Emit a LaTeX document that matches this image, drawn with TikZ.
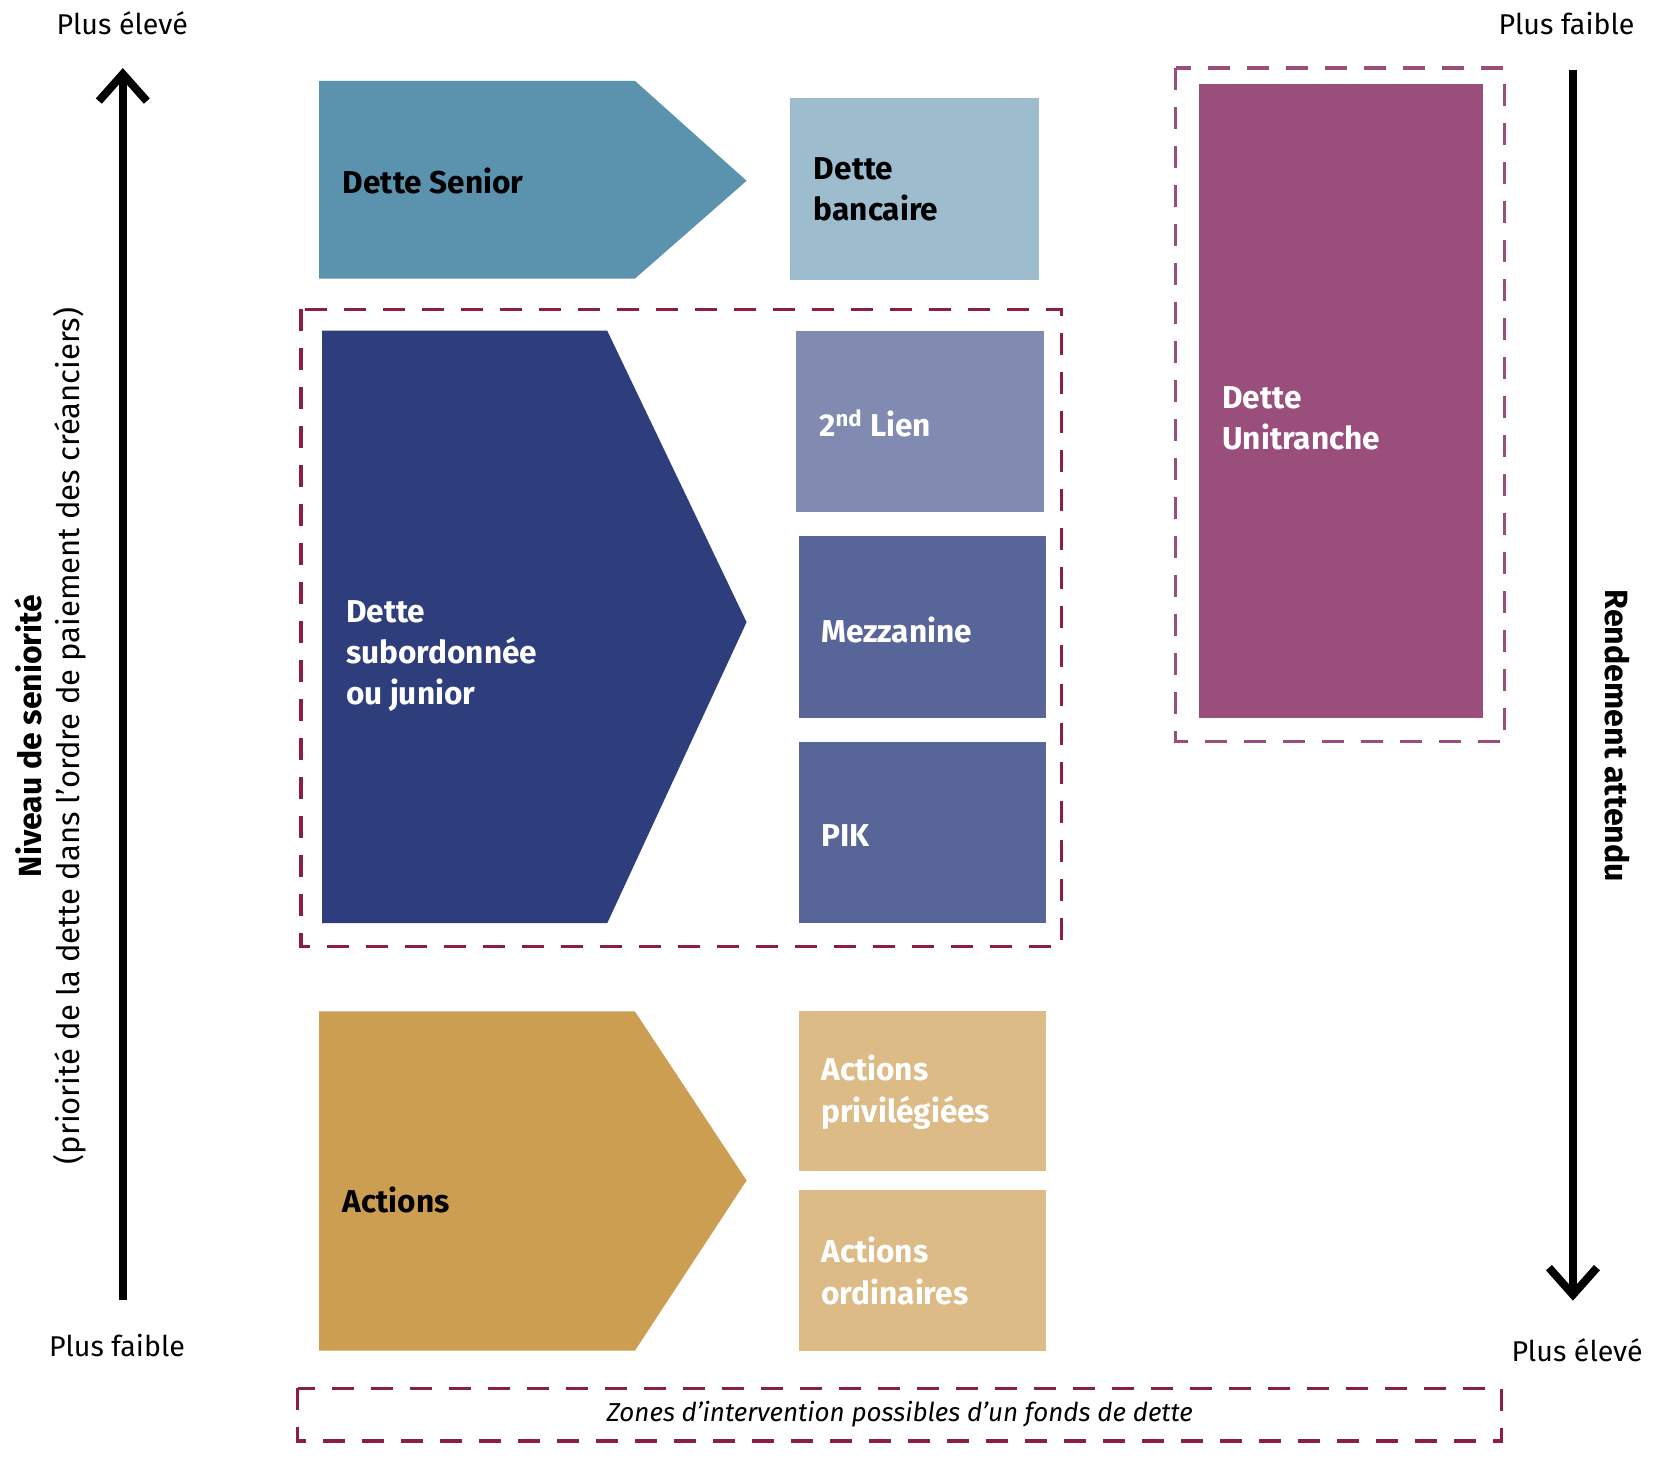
\documentclass[tikz,border=0pt]{standalone}
\usepackage{fontspec}
\setmainfont{Fira Sans}
\usetikzlibrary{arrows.meta}
\definecolor{cSenior}{HTML}{5B92AE}
\definecolor{cBanc}{HTML}{9DBCCE}
\definecolor{cSub}{HTML}{2E3E7D}
\definecolor{cLien}{HTML}{818BB1}
\definecolor{cMez}{HTML}{576598}
\definecolor{cAct}{HTML}{CC9E52}
\definecolor{cActBox}{HTML}{DCBB87}
\definecolor{cUni}{HTML}{9A4E7B}
\definecolor{cMaroon}{HTML}{8C1D47}
\begin{document}
\begin{tikzpicture}[x=0.53175pt,y=-0.53175pt,
  lbl/.style={font=\fontsize{15.8}{20.6}\selectfont\bfseries, align=left, anchor=west, inner sep=0pt},
  wlbl/.style={lbl, text=white},
  endlbl/.style={font=\fontsize{14.3}{17}\selectfont, inner sep=0pt},
  zone/.style={draw=cMaroon, line width=1.6pt, dash pattern=on 11pt off 8.5pt},
  axis/.style={line width=4pt, -{Straight Barb[length=13.5pt,width=24pt,line width=4pt]}}
]
\useasboundingbox (0,0) rectangle (1568.4,1387.9);

% end labels
\node[endlbl] (tl) at (115,22) {Plus élevé};
\node[endlbl] (bl) at (110,1265) {Plus faible};
\node[endlbl] (tr) at (1473,22) {Plus faible};
\node[endlbl] (br) at (1483,1270) {Plus élevé};

% axes
\coordinate (la) at (115.5,1222);
\coordinate (lb) at (115.5,64);
\coordinate (ra) at (1479,66);
\coordinate (rb) at (1479,1223);
\draw[axis] (la) -- (lb);
\draw[axis] (ra) -- (rb);

% axis titles
\node[font=\fontsize{16}{19}\selectfont\bfseries, rotate=90, inner sep=0pt] (niv) at (27,692) {Niveau de seniorité};
\node[font=\fontsize{15.5}{19}\selectfont, rotate=90, inner sep=0pt] (prio) at (66,692) {(priorité de la dette dans l'ordre de paiement des créanciers)};
\node[font=\fontsize{16.1}{19}\selectfont\bfseries, rotate=-90, inner sep=0pt] (rend) at (1521,692) {Rendement attendu};

% dashed zones
\draw[zone] (283,291) rectangle (998,890);
\draw[zone, draw=cUni] (1105.5,64) rectangle (1415,697);
\draw[zone] (280,1305.5) rectangle (1412,1355);
\node[font=\fontsize{13}{16}\selectfont\itshape, inner sep=0pt] (zones) at (846,1330) {Zones d’intervention possibles d’un fonds de dette};

% pentagon arrows
\fill[cSenior] (300,76) -- (597,76) -- (702,170) -- (597,262) -- (300,262) -- cycle;
\fill[cSub] (303,311) -- (571,311) -- (702,585) -- (571,868) -- (303,868) -- cycle;
\fill[cAct] (300,951) -- (597,951) -- (702,1110) -- (597,1270) -- (300,1270) -- cycle;
\node[lbl] (senior) at (322,170) {Dette Senior};
\node[wlbl] (sub) at (325,617) {Dette\\subordonnée\\ou junior};
\node[lbl] (act) at (322,1128) {Actions};

% boxes
\fill[cBanc] (743,92) rectangle (977,263);
\fill[cLien] (748,311) rectangle (982,481);
\fill[cMez] (751,504) rectangle (984,675);
\fill[cMez] (751,698) rectangle (984,868);
\fill[cActBox] (751,951) rectangle (984,1101);
\fill[cActBox] (751,1119) rectangle (984,1270);
\fill[cUni] (1127,79) rectangle (1394,675);

\node[lbl] (banc) at (765,178) {Dette\\bancaire};
\node[wlbl] (lien) at (770,398) {2\textsuperscript{nd} Lien};
\node[wlbl] (mez) at (772,592) {Mezzanine};
\node[wlbl] (pik) at (772,786) {PIK};
\node[wlbl] (apriv) at (772,1027) {Actions\\privilégiées};
\node[wlbl] (aord) at (772,1195) {Actions\\ordinaires};
\node[wlbl] (uni) at (1149,393) {Dette\\Unitranche};
\end{tikzpicture}
\end{document}
